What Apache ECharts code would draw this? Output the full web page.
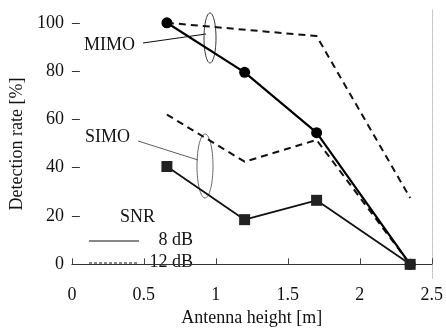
<!DOCTYPE html>
<html>
<head>
<meta charset="utf-8">
<script src="https://cdn.jsdelivr.net/npm/echarts@6/dist/echarts.min.js"></script>
<style>
  html, body { margin: 0; padding: 0; background: #fff; }
  #main { width: 446px; height: 332px; }
</style>
</head>
<body>
<div id="main"></div>
<script>
// antenna heights [m]
var heights = [0.66, 1.2, 1.7, 2.35];
// detection rate [%]
var mimo8 = [100, 79.5, 54.5, 0];
var mimo12 = [100, null, 94.5, 27.5];
var simo8 = [40.5, 18.5, 26.5, 0];
var simo12 = [62, 42.5, 51.5, 0];
var yTicks = [0, 20, 40, 60, 80, 100];

var font = 'Liberation Serif';
var myChart = echarts.init(document.getElementById('main'));

function pairs(ys) {
  return heights.map(function (h, i) { return [h, ys[i]]; });
}

var option = {
  animation: false,
  textStyle: {fontFamily: font},
  grid: {left: 71, right: 11, top: 10, bottom: 49},
  xAxis: {
    type: 'value', min: 0, max: 2.5, interval: 0.5,
    name: 'Antenna height [m]', nameLocation: 'middle', nameGap: 29,
    nameTextStyle: {fontFamily: font, fontSize: 18, color: '#111'},
    axisLine: {lineStyle: {color: '#333', width: 1}},
    axisTick: {inside: true, length: 6, lineStyle: {color: '#444'}},
    axisLabel: {fontFamily: font, fontSize: 18, color: '#111', margin: 8},
    splitLine: {show: false}
  },
  yAxis: [{
    type: 'value', min: -5.7, max: 105.3,
    name: 'Detection rate [%]', nameLocation: 'middle', nameGap: 44,
    nameTextStyle: {fontFamily: font, fontSize: 18, color: '#111'},
    axisLine: {show: true, lineStyle: {color: 'rgba(0,0,0,0)'}},
    axisTick: {show: true, inside: true, length: 8, customValues: yTicks, lineStyle: {color: '#333', width: 1}},
    axisLabel: {fontFamily: font, fontSize: 18, color: '#111', margin: 8, customValues: yTicks},
    splitLine: {show: false}
  }, {
    type: 'value', min: -5.7, max: 105.3, position: 'right',
    axisLine: {show: true, lineStyle: {color: '#bbb', type: 'dotted', width: 1}},
    axisTick: {show: false}, axisLabel: {show: false}, splitLine: {show: false}
  }],
  series: [
    {
      name: 'MIMO 12 dB', type: 'line', data: pairs(mimo12), connectNulls: true,
      showSymbol: false, lineStyle: {color: '#111', width: 2, type: [7, 5]}, z: 2
    },
    {
      name: 'SIMO 12 dB', type: 'line', data: pairs(simo12),
      showSymbol: false, lineStyle: {color: '#111', width: 2, type: [7, 5]}, z: 2
    },
    {
      name: 'MIMO 8 dB', type: 'line', data: pairs(mimo8),
      symbol: 'circle', symbolSize: 11, itemStyle: {color: '#000'},
      lineStyle: {color: '#000', width: 2.2}, z: 3
    },
    {
      name: 'SIMO 8 dB', type: 'line', data: pairs(simo8),
      symbol: 'rect', symbolSize: 11, itemStyle: {color: '#222'},
      lineStyle: {color: '#111', width: 1.8}, z: 3
    }
  ],
  graphic: [
    // MIMO annotation
    {type: 'text', left: 84, top: 36, style: {text: 'MIMO', font: '18px "Liberation Serif"', fill: '#111'}},
    {type: 'line', shape: {x1: 143, y1: 43, x2: 206, y2: 34}, style: {stroke: '#111', lineWidth: 1.2}},
    {type: 'ellipse', shape: {cx: 210, cy: 38, rx: 6, ry: 25}, style: {fill: 'none', stroke: '#333', lineWidth: 1}},
    // SIMO annotation
    {type: 'text', left: 85, top: 128, style: {text: 'SIMO', font: '18px "Liberation Serif"', fill: '#111'}},
    {type: 'line', shape: {x1: 138, y1: 141, x2: 198, y2: 160}, style: {stroke: '#333', lineWidth: 0.8}},
    {type: 'ellipse', shape: {cx: 205, cy: 166, rx: 8, ry: 32}, style: {fill: 'none', stroke: '#444', lineWidth: 0.8}},
    // SNR key
    {type: 'text', left: 120, top: 208, style: {text: 'SNR', font: '18px "Liberation Serif"', fill: '#111'}},
    {type: 'line', shape: {x1: 89, y1: 241, x2: 139, y2: 241}, style: {stroke: '#111', lineWidth: 1}},
    {type: 'text', right: 253, top: 231, style: {text: '8 dB', font: '18px "Liberation Serif"', fill: '#111'}},
    {type: 'line', shape: {x1: 89, y1: 263, x2: 139, y2: 263}, style: {stroke: '#111', lineWidth: 1, lineDash: [3, 2]}},
    {type: 'text', right: 253, top: 253, style: {text: '12 dB', font: '18px "Liberation Serif"', fill: '#111'}}
  ]
};

myChart.setOption(option);
</script>
</body>
</html>
